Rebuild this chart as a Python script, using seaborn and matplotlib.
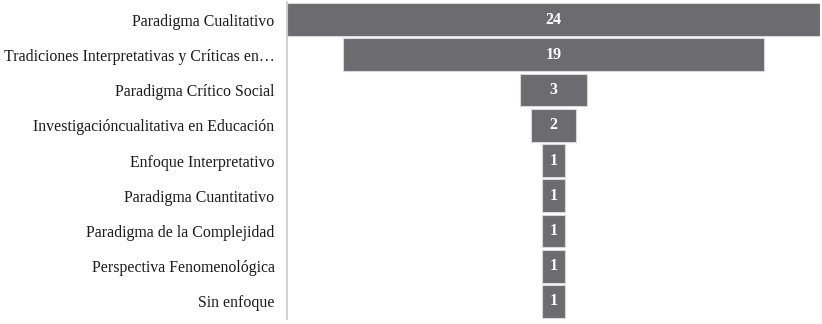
import matplotlib
matplotlib.use("Agg")
import matplotlib.pyplot as plt
import seaborn as sns
import pandas as pd

categories = [
    "Paradigma Cualitativo",
    "Tradiciones Interpretativas y Críticas en…",
    "Paradigma Crítico Social",
    "Investigacióncualitativa en Educación",
    "Enfoque Interpretativo",
    "Paradigma Cuantitativo",
    "Paradigma de la Complejidad",
    "Perspectiva Fenomenológica",
    "Sin enfoque",
]
values = [24, 19, 3, 2, 1, 1, 1, 1, 1]

df = pd.DataFrame({"cat": categories, "val": values})

sns.set_style("white")
plt.rcParams["font.family"] = ["Liberation Serif", "DejaVu Serif"]

fig = plt.figure(figsize=(8.22, 3.24), dpi=100)
ax = fig.add_axes([287 / 822, 5 / 324, 533 / 822, 317 / 324])

sns.barplot(data=df, x="val", y="cat", orient="h", color="#6c6c70",
            saturation=1, width=0.93, edgecolor="#d8d8d8", linewidth=0.8, ax=ax)

# center the bars (funnel)
for p, v in zip(ax.patches, values):
    p.set_x(-v / 2)
    ax.text(0, p.get_y() + p.get_height() / 2, str(v), ha="center", va="center",
            color="white", fontsize=11.5, fontweight="bold")

ax.set_xlim(-12.02, 12.02)
ax.set_ylim(len(categories) - 0.5, -0.5)
ax.set_xlabel("")
ax.set_ylabel("")
ax.set_xticks([])
ax.tick_params(axis="y", length=0, pad=9, labelsize=11.4, labelcolor="#1a1a1a")
for s in ["top", "right", "bottom"]:
    ax.spines[s].set_visible(False)
ax.spines["left"].set_color("#c8c8c8")
ax.spines["left"].set_linewidth(1.2)

fig.savefig("out.png", dpi=100)
